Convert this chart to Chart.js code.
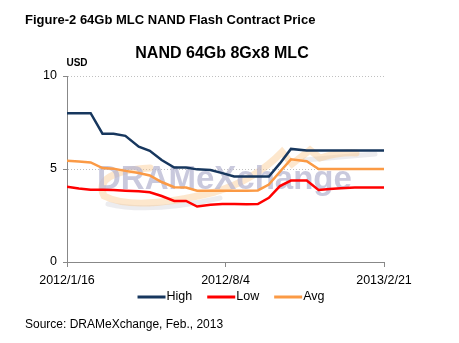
<!DOCTYPE html>
<html>
<head>
<meta charset="utf-8">
<script src="https://cdn.jsdelivr.net/npm/chart.js@4.4.0/dist/chart.umd.min.js"></script>
<style>
    html, body { margin: 0; padding: 0; background: #fff; }
    #wrap { position: relative; width: 459px; height: 343px; }
</style>
</head>
<body>
<div id="wrap"><canvas id="nandChart" width="459" height="343"></canvas></div>
<script>
// Contract price dates (semi-monthly) and prices in USD
const dates = [
    '2012/1/16', '2012/1/31', '2012/2/15', '2012/3/1', '2012/3/15', '2012/3/30',
    '2012/4/16', '2012/4/30', '2012/5/15', '2012/5/31', '2012/6/15', '2012/6/29',
    '2012/7/16', '2012/7/31', '2012/8/15', '2012/8/31', '2012/9/14', '2012/9/28',
    '2012/10/12', '2012/10/26', '2012/11/15', '2012/11/30', '2012/12/14', '2012/12/28',
    '2013/1/15', '2013/1/31', '2013/2/21'
];
const high = [8.0, 8.0, 8.0, 6.9, 6.9, 6.78, 6.2, 5.98, 5.48, 5.08, 5.08, 4.98, 4.95, 4.78,
    4.6, 4.6, 4.6, 4.6, 5.3, 6.08, 6.0, 6.0, 6.0, 6.0, 6.0, 6.0, 6.0];
const low = [4.05, 3.95, 3.88, 3.88, 3.87, 3.83, 3.8, 3.75, 3.55, 3.28, 3.28, 2.98, 3.08, 3.12,
    3.12, 3.1, 3.12, 3.45, 4.08, 4.38, 4.38, 3.87, 3.92, 3.97, 4.0, 4.0, 4.0];
const avg = [5.45, 5.4, 5.35, 5.05, 5.02, 4.9, 4.78, 4.65, 4.3, 4.02, 4.0, 3.83, 3.83, 3.83,
    3.83, 3.83, 3.85, 4.16, 4.85, 5.52, 5.42, 5.0, 5.0, 5.0, 5.0, 5.0, 5.0];
const xTickDates = ['2012/1/16', '2012/8/4', '2013/2/21'];
const yTicks = [0, 5, 10];

const FONT = '"Liberation Sans", Arial, sans-serif';

function dayOffset(str) {
    const p = str.split('/').map(Number);
    const s = xTickDates[0].split('/').map(Number);
    return (Date.UTC(p[0], p[1] - 1, p[2]) - Date.UTC(s[0], s[1] - 1, s[2])) / 86400000;
}

function puntos(serie) {
    return dates.map((d, i) => ({ x: dayOffset(d), y: serie[i] }));
}

// Texto de fondo, titulos, leyenda y fuente
const decoracion = {
    id: 'decoracion',
    beforeDatasetsDraw(chart) {
        const ctx = chart.ctx;
        ctx.save();
        ctx.lineCap = 'round';
        // sombra gris del swoosh
        ctx.strokeStyle = 'rgba(200, 200, 210, 0.35)';
        ctx.lineWidth = 5;
        ctx.beginPath();
        ctx.moveTo(108, 204);
        ctx.quadraticCurveTo(150, 214, 220, 198);
        ctx.stroke();
        ctx.beginPath();
        ctx.moveTo(305, 160);
        ctx.lineTo(375, 154);
        ctx.stroke();
        // swoosh naranja
        ctx.strokeStyle = 'rgba(250, 195, 130, 0.4)';
        ctx.lineWidth = 7;
        ctx.beginPath();
        ctx.moveTo(150, 168);
        ctx.quadraticCurveTo(92, 172, 104, 196);
        ctx.quadraticCurveTo(135, 212, 215, 192);
        ctx.quadraticCurveTo(255, 180, 282, 152);
        ctx.lineTo(292, 164);
        ctx.lineTo(310, 150);
        ctx.lineTo(320, 158);
        ctx.quadraticCurveTo(340, 152, 356, 153);
        ctx.stroke();
        // marca de agua
        ctx.fillStyle = 'rgba(180, 180, 208, 0.72)';
        ctx.font = 'bold 33px ' + FONT;
        ctx.textBaseline = 'alphabetic';
        ctx.textAlign = 'left';
        ctx.fillText('DRAMeXchange', 97, 189);
        ctx.restore();
    },
    afterDraw(chart) {
        const ctx = chart.ctx;
        ctx.save();
        ctx.fillStyle = '#000';
        ctx.textBaseline = 'middle';

        ctx.textAlign = 'left';
        ctx.font = 'bold 13px ' + FONT;
        ctx.fillText('Figure-2 64Gb MLC NAND Flash Contract Price', 25, 20);

        ctx.textAlign = 'center';
        ctx.font = 'bold 16px ' + FONT;
        ctx.fillText('NAND 64Gb 8Gx8 MLC', 222, 54);

        ctx.font = 'bold 10px ' + FONT;
        ctx.fillText('USD', 77, 63);

        // leyenda
        ctx.font = '12.5px ' + FONT;
        ctx.textAlign = 'left';
        const items = chart.data.datasets;
        const lineLen = 28, gap = 1, spacing = 15;
        let total = 0;
        items.forEach((ds, i) => {
            total += lineLen + gap + ctx.measureText(ds.label).width + (i < items.length - 1 ? spacing : 0);
        });
        let x = 231 - total / 2;
        const y = 297;
        items.forEach(ds => {
            ctx.strokeStyle = ds.borderColor;
            ctx.lineWidth = 3;
            ctx.beginPath();
            ctx.moveTo(x, y);
            ctx.lineTo(x + lineLen, y);
            ctx.stroke();
            x += lineLen + gap;
            ctx.fillText(ds.label, x, y);
            x += ctx.measureText(ds.label).width + spacing;
        });

        ctx.font = '12px ' + FONT;
        ctx.fillText('Source: DRAMeXchange, Feb., 2013', 25, 325);
        ctx.restore();
    }
};

new Chart(document.getElementById('nandChart'), {
    type: 'line',
    data: {
        datasets: [
            { label: 'High', data: puntos(high), borderColor: '#17375e' },
            { label: 'Low', data: puntos(low), borderColor: '#ff0000' },
            { label: 'Avg', data: puntos(avg), borderColor: '#fb9a45' }
        ]
    },
    options: {
        responsive: false,
        animation: false,
        devicePixelRatio: 1,
        layout: { padding: { left: 0, right: 75, top: 76, bottom: 0 } },
        elements: {
            line: { borderWidth: 2.5, tension: 0, fill: false },
            point: { radius: 0 }
        },
        plugins: {
            legend: { display: false },
            title: { display: false },
            tooltip: { enabled: false }
        },
        scales: {
            x: {
                type: 'linear',
                min: dayOffset(xTickDates[0]),
                max: dayOffset(xTickDates[xTickDates.length - 1]),
                afterBuildTicks: (scale) => {
                    scale.ticks = xTickDates.map(d => ({ value: dayOffset(d) }));
                },
                afterFit: (scale) => { scale.height = 81; },
                ticks: {
                    autoSkip: false,
                    maxRotation: 0,
                    padding: 6,
                    color: '#000',
                    font: { family: FONT, size: 12.5 },
                    callback: (value) => xTickDates.find(d => dayOffset(d) === value) || ''
                },
                grid: {
                    drawOnChartArea: false,
                    tickLength: 5,
                    tickColor: '#888'
                },
                border: { color: '#888', width: 1 }
            },
            y: {
                min: 0,
                max: 10,
                afterBuildTicks: (scale) => {
                    scale.ticks = yTicks.map(v => ({ value: v }));
                },
                afterFit: (scale) => { scale.width = 67; },
                ticks: {
                    padding: 6,
                    color: '#000',
                    font: { family: FONT, size: 12.5 }
                },
                grid: {
                    color: (c) => c.tick && c.tick.value === 0 ? 'rgba(0,0,0,0)' : '#c0c0c0',
                    tickLength: 4,
                    tickColor: '#888'
                },
                border: { color: '#888', width: 1, dash: [1, 2] }
            }
        }
    },
    plugins: [decoracion]
});
</script>
</body>
</html>
